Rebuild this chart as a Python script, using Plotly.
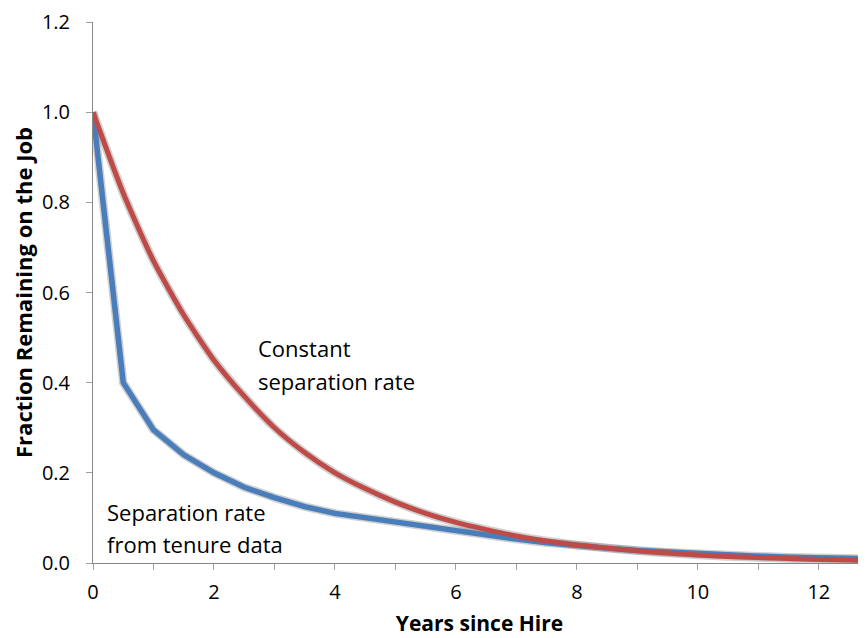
import plotly.graph_objects as go

years = [0, 0.5, 1, 1.5, 2, 2.5, 3, 3.5, 4, 4.5, 5, 5.5, 6, 6.5, 7, 7.5, 8,
         8.5, 9, 9.5, 10, 10.5, 11, 11.5, 12, 12.5, 13]
constant_rate = [1.0, 0.82, 0.67, 0.55, 0.45, 0.37, 0.30, 0.245, 0.20, 0.165,
                 0.135, 0.11, 0.09, 0.074, 0.06, 0.049, 0.04, 0.033, 0.027,
                 0.022, 0.018, 0.0145, 0.012, 0.0098, 0.008, 0.0065, 0.0053]
tenure_rate = [1.0, 0.40, 0.295, 0.24, 0.20, 0.168, 0.145, 0.125, 0.11, 0.10,
               0.09, 0.082, 0.072, 0.062, 0.053, 0.045, 0.038, 0.033, 0.028,
               0.024, 0.020, 0.017, 0.015, 0.013, 0.011, 0.010, 0.009]

x_ticks = list(range(0, 14))
x_tick_text = [str(v) if v % 2 == 0 else "" for v in x_ticks]
y_ticks = [0.0, 0.2, 0.4, 0.6, 0.8, 1.0, 1.2]
y_tick_text = ["0.0", "0.2", "0.4", "0.6", "0.8", "1.0", "1.2"]

constant_label = ["Constant", "separation rate"]
tenure_label = ["Separation rate", "from tenure data"]

FONT = "'Open Sans', sans-serif"

fig = go.Figure()
# soft shadows
for ys, sm in ((tenure_rate, 0), (constant_rate, 1)):
    fig.add_trace(go.Scatter(x=years, y=ys, mode="lines",
                             line=dict(color="rgba(120,120,120,0.35)", width=8.5,
                                       shape="spline" if sm else "linear", smoothing=0.6),
                             hoverinfo="skip", showlegend=False))
fig.add_trace(go.Scatter(x=years, y=tenure_rate, mode="lines", name="Separation rate from tenure data",
                         line=dict(color="#4A7EBB", width=5.5), showlegend=False))
fig.add_trace(go.Scatter(x=years, y=constant_rate, mode="lines", name="Constant separation rate",
                         line=dict(color="#BE4B48", width=5, shape="spline", smoothing=0.6),
                         showlegend=False))

for txt, yy in zip(constant_label, [0.477, 0.404]):
    fig.add_annotation(x=2.7, y=yy, xref="x", yref="y", text=txt,
                       showarrow=False, xanchor="left", yanchor="middle", align="left",
                       font=dict(family=FONT, size=22, color="#000000"))
for txt, yy in zip(tenure_label, [0.113, 0.042]):
    fig.add_annotation(x=0.2, y=yy, xref="x", yref="y", text=txt,
                       showarrow=False, xanchor="left", yanchor="middle", align="left",
                       font=dict(family=FONT, size=22, color="#000000"))

fig.update_layout(
    width=858, height=630,
    margin=dict(l=85, r=0, t=12, b=75),
    paper_bgcolor="white", plot_bgcolor="white",
    font=dict(family=FONT, size=20, color="#000000"),
    xaxis=dict(range=[0, 12.78], tickvals=x_ticks, ticktext=x_tick_text,
               showgrid=False, zeroline=False, showline=True, linecolor="#868686",
               linewidth=1, ticks="outside", ticklen=6, tickcolor="#A0A0A0",
               tickfont=dict(family=FONT, size=20), ticklabeloverflow="allow",
               ticklabelstandoff=5,
               title=dict(text="<b>Years since Hire</b>", font=dict(family=FONT, size=21), standoff=12)),
    yaxis=dict(range=[0, 1.2], tickvals=y_ticks, ticktext=y_tick_text,
               showgrid=False, zeroline=False, showline=True, linecolor="#868686",
               linewidth=1, ticks="outside", ticklen=6, tickcolor="#A0A0A0",
               tickfont=dict(family=FONT, size=20), ticklabeloverflow="allow",
               ticklabelstandoff=12,
               title=dict(text="<b>Fraction Remaining on the Job</b>", font=dict(family=FONT, size=22), standoff=6)),
)

fig.write_html("out.html")
